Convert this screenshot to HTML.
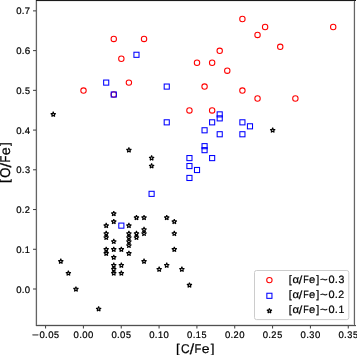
<!DOCTYPE html>
<html><head><meta charset="utf-8"><style>
html,body{margin:0;padding:0;background:#fff;width:357px;height:355px;overflow:hidden}
svg{display:block;will-change:transform;}
text{font-family:"Liberation Sans",sans-serif;text-rendering:geometricPrecision;fill:#000;stroke:#000;stroke-width:0.22px}
</style></head><body>
<svg width="357" height="355" viewBox="0 0 357 355">
<rect x="0" y="0" width="357" height="355" fill="#fff"/>
<g fill="none" stroke="#ff0000" stroke-width="1.05"><circle cx="83.50" cy="90.55" r="2.7"/><circle cx="113.77" cy="38.90" r="2.7"/><circle cx="121.34" cy="58.77" r="2.7"/><circle cx="128.90" cy="82.60" r="2.7"/><circle cx="144.04" cy="38.90" r="2.7"/><circle cx="113.77" cy="94.52" r="2.7"/><circle cx="189.44" cy="110.42" r="2.7"/><circle cx="197.01" cy="62.74" r="2.7"/><circle cx="204.57" cy="86.58" r="2.7"/><circle cx="212.14" cy="62.74" r="2.7"/><circle cx="212.14" cy="110.42" r="2.7"/><circle cx="219.71" cy="50.82" r="2.7"/><circle cx="227.27" cy="70.68" r="2.7"/><circle cx="242.41" cy="19.04" r="2.7"/><circle cx="242.41" cy="90.55" r="2.7"/><circle cx="257.54" cy="34.93" r="2.7"/><circle cx="257.54" cy="98.50" r="2.7"/><circle cx="265.11" cy="26.98" r="2.7"/><circle cx="280.24" cy="46.85" r="2.7"/><circle cx="295.38" cy="98.50" r="2.7"/><circle cx="333.21" cy="26.98" r="2.7"/></g>
<g fill="none" stroke="#0000ff" stroke-width="1.05"><rect x="103.65" y="80.05" width="5.1" height="5.1"/><rect x="111.22" y="91.97" width="5.1" height="5.1"/><rect x="133.92" y="52.24" width="5.1" height="5.1"/><rect x="164.19" y="84.03" width="5.1" height="5.1"/><rect x="164.19" y="119.78" width="5.1" height="5.1"/><rect x="186.89" y="155.54" width="5.1" height="5.1"/><rect x="186.89" y="163.49" width="5.1" height="5.1"/><rect x="186.89" y="175.41" width="5.1" height="5.1"/><rect x="194.46" y="167.46" width="5.1" height="5.1"/><rect x="202.02" y="127.73" width="5.1" height="5.1"/><rect x="202.02" y="143.62" width="5.1" height="5.1"/><rect x="202.02" y="147.59" width="5.1" height="5.1"/><rect x="209.59" y="119.78" width="5.1" height="5.1"/><rect x="209.59" y="155.54" width="5.1" height="5.1"/><rect x="217.16" y="111.84" width="5.1" height="5.1"/><rect x="217.16" y="115.81" width="5.1" height="5.1"/><rect x="217.16" y="131.70" width="5.1" height="5.1"/><rect x="239.86" y="119.78" width="5.1" height="5.1"/><rect x="239.86" y="131.70" width="5.1" height="5.1"/><rect x="247.42" y="123.76" width="5.1" height="5.1"/><rect x="149.05" y="191.30" width="5.1" height="5.1"/><rect x="118.79" y="223.08" width="5.1" height="5.1"/></g>
<g fill="none" stroke="#000" stroke-width="1.1" stroke-linejoin="bevel"><path d="M53.23,111.79 L52.65,113.58 L50.76,113.58 L52.29,114.69 L51.70,116.49 L53.23,115.38 L54.76,116.49 L54.18,114.69 L55.70,113.58 L53.82,113.58Z"/><path d="M60.80,258.79 L60.22,260.59 L58.33,260.59 L59.85,261.70 L59.27,263.49 L60.80,262.38 L62.33,263.49 L61.74,261.70 L63.27,260.59 L61.38,260.59Z"/><path d="M68.37,270.71 L67.78,272.50 L65.89,272.50 L67.42,273.61 L66.84,275.41 L68.37,274.30 L69.89,275.41 L69.31,273.61 L70.84,272.50 L68.95,272.50Z"/><path d="M75.93,286.60 L75.35,288.40 L73.46,288.40 L74.99,289.51 L74.40,291.30 L75.93,290.19 L77.46,291.30 L76.88,289.51 L78.41,288.40 L76.52,288.40Z"/><path d="M98.63,306.46 L98.05,308.26 L96.16,308.26 L97.69,309.37 L97.11,311.17 L98.63,310.06 L100.16,311.17 L99.58,309.37 L101.11,308.26 L99.22,308.26Z"/><path d="M272.68,127.68 L272.09,129.48 L270.20,129.48 L271.73,130.59 L271.15,132.38 L272.68,131.27 L274.20,132.38 L273.62,130.59 L275.15,129.48 L273.26,129.48Z"/><path d="M128.90,147.54 L128.32,149.34 L126.43,149.34 L127.96,150.45 L127.37,152.25 L128.90,151.14 L130.43,152.25 L129.85,150.45 L131.37,149.34 L129.49,149.34Z"/><path d="M151.60,155.49 L151.02,157.29 L149.13,157.29 L150.66,158.40 L150.07,160.19 L151.60,159.08 L153.13,160.19 L152.55,158.40 L154.08,157.29 L152.19,157.29Z"/><path d="M151.60,163.44 L151.02,165.23 L149.13,165.23 L150.66,166.34 L150.07,168.14 L151.60,167.03 L153.13,168.14 L152.55,166.34 L154.08,165.23 L152.19,165.23Z"/><path d="M106.20,223.03 L105.62,224.83 L103.73,224.83 L105.26,225.94 L104.67,227.74 L106.20,226.63 L107.73,227.74 L107.15,225.94 L108.67,224.83 L106.78,224.83Z"/><path d="M106.20,230.98 L105.62,232.77 L103.73,232.77 L105.26,233.88 L104.67,235.68 L106.20,234.57 L107.73,235.68 L107.15,233.88 L108.67,232.77 L106.78,232.77Z"/><path d="M106.20,234.95 L105.62,236.75 L103.73,236.75 L105.26,237.86 L104.67,239.65 L106.20,238.54 L107.73,239.65 L107.15,237.86 L108.67,236.75 L106.78,236.75Z"/><path d="M106.20,246.87 L105.62,248.67 L103.73,248.67 L105.26,249.78 L104.67,251.57 L106.20,250.46 L107.73,251.57 L107.15,249.78 L108.67,248.67 L106.78,248.67Z"/><path d="M106.20,250.84 L105.62,252.64 L103.73,252.64 L105.26,253.75 L104.67,255.55 L106.20,254.44 L107.73,255.55 L107.15,253.75 L108.67,252.64 L106.78,252.64Z"/><path d="M113.77,211.11 L113.18,212.91 L111.30,212.91 L112.82,214.02 L112.24,215.82 L113.77,214.71 L115.30,215.82 L114.71,214.02 L116.24,212.91 L114.35,212.91Z"/><path d="M113.77,219.06 L113.18,220.86 L111.30,220.86 L112.82,221.97 L112.24,223.76 L113.77,222.65 L115.30,223.76 L114.71,221.97 L116.24,220.86 L114.35,220.86Z"/><path d="M113.77,238.92 L113.18,240.72 L111.30,240.72 L112.82,241.83 L112.24,243.63 L113.77,242.52 L115.30,243.63 L114.71,241.83 L116.24,240.72 L114.35,240.72Z"/><path d="M113.77,246.87 L113.18,248.67 L111.30,248.67 L112.82,249.78 L112.24,251.57 L113.77,250.46 L115.30,251.57 L114.71,249.78 L116.24,248.67 L114.35,248.67Z"/><path d="M113.77,254.82 L113.18,256.61 L111.30,256.61 L112.82,257.72 L112.24,259.52 L113.77,258.41 L115.30,259.52 L114.71,257.72 L116.24,256.61 L114.35,256.61Z"/><path d="M113.77,262.76 L113.18,264.56 L111.30,264.56 L112.82,265.67 L112.24,267.47 L113.77,266.36 L115.30,267.47 L114.71,265.67 L116.24,264.56 L114.35,264.56Z"/><path d="M113.77,266.73 L113.18,268.53 L111.30,268.53 L112.82,269.64 L112.24,271.44 L113.77,270.33 L115.30,271.44 L114.71,269.64 L116.24,268.53 L114.35,268.53Z"/><path d="M113.77,270.71 L113.18,272.50 L111.30,272.50 L112.82,273.61 L112.24,275.41 L113.77,274.30 L115.30,275.41 L114.71,273.61 L116.24,272.50 L114.35,272.50Z"/><path d="M121.34,246.87 L120.75,248.67 L118.86,248.67 L120.39,249.78 L119.81,251.57 L121.34,250.46 L122.86,251.57 L122.28,249.78 L123.81,248.67 L121.92,248.67Z"/><path d="M121.34,262.76 L120.75,264.56 L118.86,264.56 L120.39,265.67 L119.81,267.47 L121.34,266.36 L122.86,267.47 L122.28,265.67 L123.81,264.56 L121.92,264.56Z"/><path d="M121.34,270.71 L120.75,272.50 L118.86,272.50 L120.39,273.61 L119.81,275.41 L121.34,274.30 L122.86,275.41 L122.28,273.61 L123.81,272.50 L121.92,272.50Z"/><path d="M128.90,223.03 L128.32,224.83 L126.43,224.83 L127.96,225.94 L127.37,227.74 L128.90,226.63 L130.43,227.74 L129.85,225.94 L131.37,224.83 L129.49,224.83Z"/><path d="M128.90,230.98 L128.32,232.77 L126.43,232.77 L127.96,233.88 L127.37,235.68 L128.90,234.57 L130.43,235.68 L129.85,233.88 L131.37,232.77 L129.49,232.77Z"/><path d="M128.90,234.95 L128.32,236.75 L126.43,236.75 L127.96,237.86 L127.37,239.65 L128.90,238.54 L130.43,239.65 L129.85,237.86 L131.37,236.75 L129.49,236.75Z"/><path d="M128.90,238.92 L128.32,240.72 L126.43,240.72 L127.96,241.83 L127.37,243.63 L128.90,242.52 L130.43,243.63 L129.85,241.83 L131.37,240.72 L129.49,240.72Z"/><path d="M128.90,242.90 L128.32,244.69 L126.43,244.69 L127.96,245.80 L127.37,247.60 L128.90,246.49 L130.43,247.60 L129.85,245.80 L131.37,244.69 L129.49,244.69Z"/><path d="M128.90,250.84 L128.32,252.64 L126.43,252.64 L127.96,253.75 L127.37,255.55 L128.90,254.44 L130.43,255.55 L129.85,253.75 L131.37,252.64 L129.49,252.64Z"/><path d="M136.47,215.09 L135.89,216.88 L134.00,216.88 L135.52,217.99 L134.94,219.79 L136.47,218.68 L138.00,219.79 L137.41,217.99 L138.94,216.88 L137.05,216.88Z"/><path d="M136.47,230.98 L135.89,232.77 L134.00,232.77 L135.52,233.88 L134.94,235.68 L136.47,234.57 L138.00,235.68 L137.41,233.88 L138.94,232.77 L137.05,232.77Z"/><path d="M136.47,234.95 L135.89,236.75 L134.00,236.75 L135.52,237.86 L134.94,239.65 L136.47,238.54 L138.00,239.65 L137.41,237.86 L138.94,236.75 L137.05,236.75Z"/><path d="M144.04,215.09 L143.45,216.88 L141.56,216.88 L143.09,217.99 L142.51,219.79 L144.04,218.68 L145.56,219.79 L144.98,217.99 L146.51,216.88 L144.62,216.88Z"/><path d="M144.04,227.00 L143.45,228.80 L141.56,228.80 L143.09,229.91 L142.51,231.71 L144.04,230.60 L145.56,231.71 L144.98,229.91 L146.51,228.80 L144.62,228.80Z"/><path d="M144.04,230.98 L143.45,232.77 L141.56,232.77 L143.09,233.88 L142.51,235.68 L144.04,234.57 L145.56,235.68 L144.98,233.88 L146.51,232.77 L144.62,232.77Z"/><path d="M144.04,258.79 L143.45,260.59 L141.56,260.59 L143.09,261.70 L142.51,263.49 L144.04,262.38 L145.56,263.49 L144.98,261.70 L146.51,260.59 L144.62,260.59Z"/><path d="M159.17,266.73 L158.59,268.53 L156.70,268.53 L158.23,269.64 L157.64,271.44 L159.17,270.33 L160.70,271.44 L160.11,269.64 L161.64,268.53 L159.75,268.53Z"/><path d="M166.74,215.09 L166.15,216.88 L164.26,216.88 L165.79,217.99 L165.21,219.79 L166.74,218.68 L168.27,219.79 L167.68,217.99 L169.21,216.88 L167.32,216.88Z"/><path d="M166.74,262.76 L166.15,264.56 L164.26,264.56 L165.79,265.67 L165.21,267.47 L166.74,266.36 L168.27,267.47 L167.68,265.67 L169.21,264.56 L167.32,264.56Z"/><path d="M174.30,219.06 L173.72,220.86 L171.83,220.86 L173.36,221.97 L172.78,223.76 L174.30,222.65 L175.83,223.76 L175.25,221.97 L176.78,220.86 L174.89,220.86Z"/><path d="M174.30,230.98 L173.72,232.77 L171.83,232.77 L173.36,233.88 L172.78,235.68 L174.30,234.57 L175.83,235.68 L175.25,233.88 L176.78,232.77 L174.89,232.77Z"/><path d="M174.30,246.87 L173.72,248.67 L171.83,248.67 L173.36,249.78 L172.78,251.57 L174.30,250.46 L175.83,251.57 L175.25,249.78 L176.78,248.67 L174.89,248.67Z"/><path d="M181.87,266.73 L181.29,268.53 L179.40,268.53 L180.93,269.64 L180.34,271.44 L181.87,270.33 L183.40,271.44 L182.82,269.64 L184.34,268.53 L182.45,268.53Z"/><path d="M189.44,282.63 L188.85,284.42 L186.97,284.42 L188.49,285.53 L187.91,287.33 L189.44,286.22 L190.97,287.33 L190.38,285.53 L191.91,284.42 L190.02,284.42Z"/></g>
<g shape-rendering="crispEdges"><rect x="35" y="0" width="1" height="326" fill="#d7d7d7"/><rect x="37" y="1" width="1" height="324" fill="#f5f5f5"/><rect x="353" y="1" width="1" height="324" fill="#e0e0e0"/><rect x="355" y="0" width="1" height="326" fill="#f5f5f5"/><rect x="36" y="1" width="319" height="1" fill="#ebebeb"/><rect x="37" y="324" width="317" height="1" fill="#e2e2e2"/><rect x="36" y="326" width="320" height="1" fill="#e6e6e6"/><rect x="36" y="0" width="1" height="326" fill="#646464"/><rect x="354" y="0" width="1" height="326" fill="#646464"/><rect x="36" y="0" width="320" height="1" fill="#1a1a1a"/><rect x="36" y="325" width="320" height="1" fill="#505050"/></g>
<g stroke="#1a1a1a" stroke-width="0.85"><line x1="33" y1="289.00" x2="36" y2="289.00"/><line x1="33" y1="249.27" x2="36" y2="249.27"/><line x1="33" y1="209.54" x2="36" y2="209.54"/><line x1="33" y1="169.81" x2="36" y2="169.81"/><line x1="33" y1="130.08" x2="36" y2="130.08"/><line x1="33" y1="90.35" x2="36" y2="90.35"/><line x1="33" y1="50.62" x2="36" y2="50.62"/><line x1="33" y1="10.89" x2="36" y2="10.89"/><line x1="45.57" y1="326" x2="45.57" y2="328.5"/><line x1="83.40" y1="326" x2="83.40" y2="328.5"/><line x1="121.24" y1="326" x2="121.24" y2="328.5"/><line x1="159.07" y1="326" x2="159.07" y2="328.5"/><line x1="196.91" y1="326" x2="196.91" y2="328.5"/><line x1="234.74" y1="326" x2="234.74" y2="328.5"/><line x1="272.58" y1="326" x2="272.58" y2="328.5"/><line x1="310.41" y1="326" x2="310.41" y2="328.5"/><line x1="348.25" y1="326" x2="348.25" y2="328.5"/></g>
<text transform="translate(18.78,292.60) scale(1.004,1.000)" x="-2.64" y="0.00" font-size="9.5">0</text><text transform="translate(23.10,292.60) scale(1.031,1.000)" x="-1.32" y="0.00" font-size="9.5">.</text><text transform="translate(27.42,292.60) scale(1.004,1.000)" x="-2.64" y="0.00" font-size="9.5">0</text>
<text transform="translate(18.78,252.87) scale(1.004,1.000)" x="-2.64" y="0.00" font-size="9.5">0</text><text transform="translate(23.10,252.87) scale(1.031,1.000)" x="-1.32" y="0.00" font-size="9.5">.</text><text transform="translate(27.50,252.87) scale(0.959,1.000)" x="-2.77" y="0.00" font-size="9.5">1</text>
<text transform="translate(18.78,213.14) scale(1.004,1.000)" x="-2.64" y="0.00" font-size="9.5">0</text><text transform="translate(23.10,213.14) scale(1.031,1.000)" x="-1.32" y="0.00" font-size="9.5">.</text><text transform="translate(27.30,213.14) scale(0.968,1.000)" x="-2.64" y="0.00" font-size="9.5">2</text>
<text transform="translate(18.78,173.41) scale(1.004,1.000)" x="-2.64" y="0.00" font-size="9.5">0</text><text transform="translate(23.10,173.41) scale(1.031,1.000)" x="-1.32" y="0.00" font-size="9.5">.</text><text transform="translate(27.40,173.41) scale(0.964,1.000)" x="-2.61" y="0.00" font-size="9.5">3</text>
<text transform="translate(18.78,133.68) scale(1.004,1.000)" x="-2.64" y="0.00" font-size="9.5">0</text><text transform="translate(23.10,133.68) scale(1.031,1.000)" x="-1.32" y="0.00" font-size="9.5">.</text><text transform="translate(27.39,133.68) scale(1.004,1.000)" x="-2.61" y="0.00" font-size="9.5">4</text>
<text transform="translate(18.78,93.95) scale(1.004,1.000)" x="-2.64" y="0.00" font-size="9.5">0</text><text transform="translate(23.10,93.95) scale(1.031,1.000)" x="-1.32" y="0.00" font-size="9.5">.</text><text transform="translate(27.37,93.95) scale(0.948,1.000)" x="-2.63" y="0.00" font-size="9.5">5</text>
<text transform="translate(18.78,54.22) scale(1.004,1.000)" x="-2.64" y="0.00" font-size="9.5">0</text><text transform="translate(23.10,54.22) scale(1.031,1.000)" x="-1.32" y="0.00" font-size="9.5">.</text><text transform="translate(27.45,54.22) scale(1.039,1.000)" x="-2.67" y="0.00" font-size="9.5">6</text>
<text transform="translate(18.78,14.49) scale(1.004,1.000)" x="-2.64" y="0.00" font-size="9.5">0</text><text transform="translate(23.10,14.49) scale(1.031,1.000)" x="-1.32" y="0.00" font-size="9.5">.</text><text transform="translate(27.41,14.49) scale(0.982,1.000)" x="-2.65" y="0.00" font-size="9.5">7</text>
<text transform="translate(35.49,338.20) scale(1.227,1.000)" x="-2.78" y="0.00" font-size="9.5">−</text><text transform="translate(42.16,338.20) scale(1.004,1.000)" x="-2.64" y="0.00" font-size="9.5">0</text><text transform="translate(46.47,338.20) scale(1.031,1.000)" x="-1.32" y="0.00" font-size="9.5">.</text><text transform="translate(50.79,338.20) scale(1.004,1.000)" x="-2.64" y="0.00" font-size="9.5">0</text><text transform="translate(56.51,338.20) scale(0.948,1.000)" x="-2.63" y="0.00" font-size="9.5">5</text>
<text transform="translate(76.20,338.20) scale(1.004,1.000)" x="-2.64" y="0.00" font-size="9.5">0</text><text transform="translate(80.52,338.20) scale(1.031,1.000)" x="-1.32" y="0.00" font-size="9.5">.</text><text transform="translate(84.84,338.20) scale(1.004,1.000)" x="-2.64" y="0.00" font-size="9.5">0</text><text transform="translate(90.59,338.20) scale(1.004,1.000)" x="-2.64" y="0.00" font-size="9.5">0</text>
<text transform="translate(114.04,338.20) scale(1.004,1.000)" x="-2.64" y="0.00" font-size="9.5">0</text><text transform="translate(118.35,338.20) scale(1.031,1.000)" x="-1.32" y="0.00" font-size="9.5">.</text><text transform="translate(122.67,338.20) scale(1.004,1.000)" x="-2.64" y="0.00" font-size="9.5">0</text><text transform="translate(128.38,338.20) scale(0.948,1.000)" x="-2.63" y="0.00" font-size="9.5">5</text>
<text transform="translate(151.87,338.20) scale(1.004,1.000)" x="-2.64" y="0.00" font-size="9.5">0</text><text transform="translate(156.19,338.20) scale(1.031,1.000)" x="-1.32" y="0.00" font-size="9.5">.</text><text transform="translate(160.59,338.20) scale(0.959,1.000)" x="-2.77" y="0.00" font-size="9.5">1</text><text transform="translate(166.26,338.20) scale(1.004,1.000)" x="-2.64" y="0.00" font-size="9.5">0</text>
<text transform="translate(189.71,338.20) scale(1.004,1.000)" x="-2.64" y="0.00" font-size="9.5">0</text><text transform="translate(194.02,338.20) scale(1.031,1.000)" x="-1.32" y="0.00" font-size="9.5">.</text><text transform="translate(198.42,338.20) scale(0.959,1.000)" x="-2.77" y="0.00" font-size="9.5">1</text><text transform="translate(204.05,338.20) scale(0.948,1.000)" x="-2.63" y="0.00" font-size="9.5">5</text>
<text transform="translate(227.54,338.20) scale(1.004,1.000)" x="-2.64" y="0.00" font-size="9.5">0</text><text transform="translate(231.86,338.20) scale(1.031,1.000)" x="-1.32" y="0.00" font-size="9.5">.</text><text transform="translate(236.06,338.20) scale(0.968,1.000)" x="-2.64" y="0.00" font-size="9.5">2</text><text transform="translate(241.93,338.20) scale(1.004,1.000)" x="-2.64" y="0.00" font-size="9.5">0</text>
<text transform="translate(265.38,338.20) scale(1.004,1.000)" x="-2.64" y="0.00" font-size="9.5">0</text><text transform="translate(269.69,338.20) scale(1.031,1.000)" x="-1.32" y="0.00" font-size="9.5">.</text><text transform="translate(273.89,338.20) scale(0.968,1.000)" x="-2.64" y="0.00" font-size="9.5">2</text><text transform="translate(279.72,338.20) scale(0.948,1.000)" x="-2.63" y="0.00" font-size="9.5">5</text>
<text transform="translate(303.21,338.20) scale(1.004,1.000)" x="-2.64" y="0.00" font-size="9.5">0</text><text transform="translate(307.53,338.20) scale(1.031,1.000)" x="-1.32" y="0.00" font-size="9.5">.</text><text transform="translate(311.83,338.20) scale(0.964,1.000)" x="-2.61" y="0.00" font-size="9.5">3</text><text transform="translate(317.60,338.20) scale(1.004,1.000)" x="-2.64" y="0.00" font-size="9.5">0</text>
<text transform="translate(341.05,338.20) scale(1.004,1.000)" x="-2.64" y="0.00" font-size="9.5">0</text><text transform="translate(345.36,338.20) scale(1.031,1.000)" x="-1.32" y="0.00" font-size="9.5">.</text><text transform="translate(349.67,338.20) scale(0.964,1.000)" x="-2.61" y="0.00" font-size="9.5">3</text><text transform="translate(355.39,338.20) scale(0.948,1.000)" x="-2.63" y="0.00" font-size="9.5">5</text>
<text transform="translate(178.19,353.00) scale(1.062,1.000)" x="-2.17" y="0.00" font-size="12.7">[</text><text transform="translate(185.32,353.00) scale(0.947,1.000)" x="-4.67" y="0.00" font-size="12.7">C</text><text transform="translate(192.01,353.00) scale(1.237,1.141)" x="-1.76" y="0.93" font-size="12.7">/</text><text transform="translate(198.18,353.00) scale(0.874,1.000)" x="-4.15" y="0.00" font-size="12.7">F</text><text transform="translate(205.64,353.00) scale(1.101,1.000)" x="-3.52" y="0.00" font-size="12.7">e</text><text transform="translate(212.21,353.00) scale(1.062,1.000)" x="-1.36" y="0.00" font-size="12.7">]</text>
<text transform="translate(10.35,180.61) rotate(-90) scale(1.091,1.002)" x="-2.17" y="-0.89" font-size="12.7">[</text><text transform="translate(10.35,172.71) rotate(-90) scale(1.035,1.119)" x="-4.94" y="0.04" font-size="12.7">O</text><text transform="translate(10.35,165.23) rotate(-90) scale(1.270,1.172)" x="-1.76" y="0.93" font-size="12.7">/</text><text transform="translate(10.35,158.90) rotate(-90) scale(0.898,1.110)" x="-4.15" y="0.00" font-size="12.7">F</text><text transform="translate(10.35,151.24) rotate(-90) scale(1.131,1.098)" x="-3.52" y="0.05" font-size="12.7">e</text><text transform="translate(10.35,144.49) rotate(-90) scale(1.091,1.002)" x="-1.36" y="-0.89" font-size="12.7">]</text>
<rect x="254.5" y="270.5" width="94.3" height="49.1" rx="2" ry="2" fill="#fff" fill-opacity="0.8" stroke="#cccccc" stroke-width="1"/>
<circle cx="269.4" cy="280.1" r="2.7" fill="none" stroke="#ff0000" stroke-width="1.05"/>
<rect x="266.85" y="293.25" width="5.1" height="5.1" fill="none" stroke="#0000ff" stroke-width="1.05"/>
<path d="M269.40,308.30 L268.82,310.10 L266.93,310.10 L268.46,311.21 L267.87,313.00 L269.40,311.89 L270.93,313.00 L270.34,311.21 L271.87,310.10 L269.98,310.10Z" fill="none" stroke="#000" stroke-linejoin="bevel" stroke-width="1.1"/>
<text transform="translate(290.48,282.70) scale(1.024,1.000)" x="-1.81" y="0.00" font-size="10.6">[</text><text transform="translate(295.84,282.70) scale(1.078,1.000)" x="-3.13" y="0.00" font-size="10.6">α</text><text transform="translate(300.59,282.70) scale(1.192,1.100)" x="-1.47" y="0.78" font-size="10.6">/</text><text transform="translate(306.15,282.70) scale(0.843,1.000)" x="-3.46" y="0.00" font-size="10.6">F</text><text transform="translate(312.16,282.70) scale(1.062,1.000)" x="-2.94" y="0.00" font-size="10.6">e</text><text transform="translate(317.44,282.70) scale(1.024,1.000)" x="-1.14" y="0.00" font-size="10.6">]</text><text transform="translate(323.78,282.70) scale(1.245,1.000)" x="-3.10" y="0.00" font-size="10.6">~</text><text transform="translate(331.46,282.70) scale(1.036,1.000)" x="-2.95" y="0.00" font-size="10.6">0</text><text transform="translate(336.43,282.70) scale(1.064,1.000)" x="-1.47" y="0.00" font-size="10.6">.</text><text transform="translate(341.39,282.70) scale(0.995,1.000)" x="-2.92" y="0.00" font-size="10.6">3</text>
<text transform="translate(290.48,298.00) scale(1.024,1.000)" x="-1.81" y="0.00" font-size="10.6">[</text><text transform="translate(295.84,298.00) scale(1.078,1.000)" x="-3.13" y="0.00" font-size="10.6">α</text><text transform="translate(300.59,298.00) scale(1.192,1.100)" x="-1.47" y="0.78" font-size="10.6">/</text><text transform="translate(306.15,298.00) scale(0.843,1.000)" x="-3.46" y="0.00" font-size="10.6">F</text><text transform="translate(312.16,298.00) scale(1.062,1.000)" x="-2.94" y="0.00" font-size="10.6">e</text><text transform="translate(317.44,298.00) scale(1.024,1.000)" x="-1.14" y="0.00" font-size="10.6">]</text><text transform="translate(323.78,298.00) scale(1.245,1.000)" x="-3.10" y="0.00" font-size="10.6">~</text><text transform="translate(331.46,298.00) scale(1.036,1.000)" x="-2.95" y="0.00" font-size="10.6">0</text><text transform="translate(336.43,298.00) scale(1.064,1.000)" x="-1.47" y="0.00" font-size="10.6">.</text><text transform="translate(341.27,298.00) scale(0.999,1.000)" x="-2.95" y="0.00" font-size="10.6">2</text>
<text transform="translate(290.48,313.30) scale(1.024,1.000)" x="-1.81" y="0.00" font-size="10.6">[</text><text transform="translate(295.84,313.30) scale(1.078,1.000)" x="-3.13" y="0.00" font-size="10.6">α</text><text transform="translate(300.59,313.30) scale(1.192,1.100)" x="-1.47" y="0.78" font-size="10.6">/</text><text transform="translate(306.15,313.30) scale(0.843,1.000)" x="-3.46" y="0.00" font-size="10.6">F</text><text transform="translate(312.16,313.30) scale(1.062,1.000)" x="-2.94" y="0.00" font-size="10.6">e</text><text transform="translate(317.44,313.30) scale(1.024,1.000)" x="-1.14" y="0.00" font-size="10.6">]</text><text transform="translate(323.78,313.30) scale(1.245,1.000)" x="-3.10" y="0.00" font-size="10.6">~</text><text transform="translate(331.46,313.30) scale(1.036,1.000)" x="-2.95" y="0.00" font-size="10.6">0</text><text transform="translate(336.43,313.30) scale(1.064,1.000)" x="-1.47" y="0.00" font-size="10.6">.</text><text transform="translate(341.50,313.30) scale(0.990,1.000)" x="-3.09" y="0.00" font-size="10.6">1</text>
</svg></body></html>
